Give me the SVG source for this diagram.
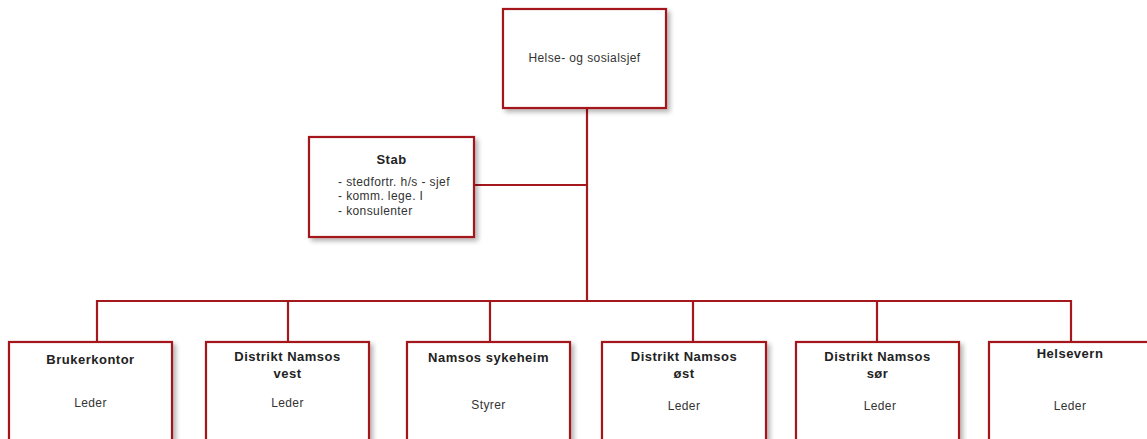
<svg xmlns="http://www.w3.org/2000/svg" width="1147" height="439" viewBox="0 0 1147 439">
<style>
.box{fill:#fff;stroke:#a3171d;stroke-width:2.2;filter:url(#sh)}
.ln{fill:none;stroke:#a3171d;stroke-width:2.2}
.t{font-family:"Liberation Sans",Arial,sans-serif;font-size:12px;letter-spacing:0.4px;fill:#333;text-anchor:middle}
.b{font-family:"Liberation Sans",Arial,sans-serif;font-size:13px;letter-spacing:0.5px;font-weight:bold;fill:#222;text-anchor:middle}
.s{font-family:"Liberation Sans",Arial,sans-serif;font-size:12px;letter-spacing:0.4px;fill:#333}
</style>
<defs>
<filter id="sh" x="-10%" y="-10%" width="130%" height="130%">
<feGaussianBlur in="SourceAlpha" stdDeviation="2.5"/>
<feOffset dx="3" dy="3" result="o"/>
<feComponentTransfer><feFuncA type="linear" slope="0.3"/></feComponentTransfer>
<feMerge><feMergeNode/><feMergeNode in="SourceGraphic"/></feMerge>
</filter>
</defs>
<rect width="1147" height="439" fill="#fff"/>
<g id="connectors">
<path class="ln" d="M587 108 V301"/>
<path class="ln" d="M474 185 H587"/>
<path class="ln" d="M97 342 V301 H1071 V342"/>
<path class="ln" d="M288 301 V342 M490 301 V342 M693 301 V342 M877 301 V342"/>
</g>
<g id="chief">
<rect class="box" x="503" y="9" width="163" height="99"/>
<text class="t" x="584.5" y="62">Helse- og sosialsjef</text>
</g>
<g id="stab">
<rect class="box" x="309" y="137" width="165" height="100"/>
<text class="b" x="391.5" y="164">Stab</text>
<text class="s" x="338" y="186">- stedfortr. h/s - sjef</text>
<text class="s" x="338" y="200">- komm. lege. I</text>
<text class="s" x="338" y="215">- konsulenter</text>
</g>
<g id="brukerkontor">
<rect class="box" x="9" y="342" width="163" height="110"/>
<text class="b" x="90.5" y="364">Brukerkontor</text>
<text class="t" x="90.5" y="407">Leder</text>
</g>
<g id="vest">
<rect class="box" x="206" y="342" width="163" height="110"/>
<text class="b" x="287.5" y="361">Distrikt Namsos</text>
<text class="b" x="287.5" y="378">vest</text>
<text class="t" x="287.5" y="407">Leder</text>
</g>
<g id="sykeheim">
<rect class="box" x="407" y="342" width="163" height="110"/>
<text class="b" x="488.5" y="362">Namsos sykeheim</text>
<text class="t" x="488.5" y="409">Styrer</text>
</g>
<g id="ost">
<rect class="box" x="602" y="342" width="164" height="110"/>
<text class="b" x="684" y="361">Distrikt Namsos</text>
<text class="b" x="684" y="378">øst</text>
<text class="t" x="684" y="410">Leder</text>
</g>
<g id="sor">
<rect class="box" x="796" y="342" width="163" height="110"/>
<text class="b" x="877.5" y="361">Distrikt Namsos</text>
<text class="b" x="877.5" y="378">sør</text>
<text class="t" x="880" y="410">Leder</text>
</g>
<g id="helsevern">
<rect class="box" x="989" y="342" width="170" height="110"/>
<text class="b" x="1070" y="358">Helsevern</text>
<text class="t" x="1070" y="410">Leder</text>
</g>
</svg>
